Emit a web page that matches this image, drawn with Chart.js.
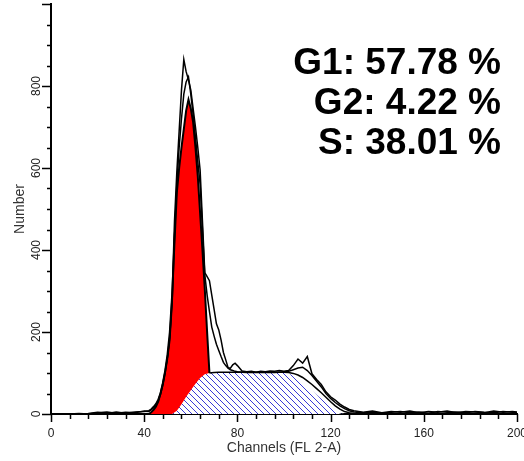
<!DOCTYPE html>
<html>
<head>
<meta charset="utf-8">
<script src="https://cdn.jsdelivr.net/npm/chart.js@4.4.0/dist/chart.umd.min.js"></script>
<style>
html, body { margin: 0; padding: 0; background: #fff; }
</style>
</head>
<body>
<canvas id="myChart" width="524" height="461"></canvas>
<script>
// channels sampled for the raw histograms
var rawChannels = [0, 4, 8, 12, 16, 20, 24, 28, 32, 36, 40,
    42, 43, 44, 45, 46, 47, 48, 49, 50, 51, 52, 53, 54, 55, 56, 57, 58, 59, 60, 61,
    62, 63, 64, 65, 66, 67, 68, 69, 70, 71, 72, 73, 74, 75, 76, 77, 78, 79, 80,
    82, 84, 86, 88, 90, 92, 94, 96, 98, 100, 102, 104, 106, 108, 110, 112, 114, 116, 118, 120,
    122, 124, 126, 128, 130,
    134, 138, 142, 146, 150, 154, 158, 162, 166, 170, 174, 178, 182, 186, 190, 194, 198, 200];

var rawA = [0, 0, 0, 0, 1, 4, 1, 5, 2, 5, 6,
    8, 12, 18, 25, 36, 52, 75, 105, 140, 190, 290, 470, 590, 690, 790, 865, 835, 815, 790, 745,
    700, 650, 595, 470, 345, 335, 325, 290, 255, 220, 205, 180, 150, 132, 113, 112, 120, 124, 118,
    105, 103, 104, 102, 104, 103, 105, 104, 106, 104, 106, 118, 134, 124, 140, 98, 84, 72, 54, 42,
    34, 24, 17, 11, 8,
    4, 7, 3, 6, 4, 7, 3, 6, 4, 7, 3, 6, 5, 3, 7, 4, 6, 5];

var rawB = [0, 0, 0, 1, 0, 3, 5, 2, 4, 3, 7,
    6, 10, 15, 22, 32, 48, 70, 100, 135, 180, 270, 430, 560, 650, 720, 780, 810, 822, 780, 730,
    675, 615, 560, 450, 340, 290, 250, 212, 190, 170, 155, 140, 126, 118, 112, 108, 106, 104, 103,
    102, 101, 102, 101, 102, 101, 102, 101, 102, 103, 104, 108, 112, 114, 106, 94, 80, 66, 50, 38,
    28, 20, 13, 8, 5,
    3, 5, 2, 4, 6, 3, 5, 2, 6, 4, 5, 3, 6, 4, 3, 6, 4, 3];

// G1 fit (on top of S)
var g1Channels = [42, 43, 44, 45, 46, 47, 48, 49, 50, 51, 52, 53, 54, 55, 56, 57, 58, 59, 60, 61,
    62, 63, 64, 65, 66, 67, 68];
var g1Total = [0, 4, 10, 18, 30, 50, 75, 105, 145, 200, 290, 420, 540, 600, 650, 695, 740, 767, 745, 712,
    650, 580, 490, 400, 305, 200, 100];

// S phase fit
var sChannels = [50, 52, 54, 56, 58, 60, 62, 64, 66, 68, 70, 74, 78, 82, 86, 90, 94, 98, 100, 102,
    104, 106, 108, 110, 112, 114, 116, 118, 120, 122, 124, 126];
var sValues = [0, 0, 8, 24, 42, 58, 74, 88, 97, 100, 101, 101, 101, 101, 101, 101, 101, 101, 101, 99,
    93, 85, 76, 67, 57, 47, 37, 27, 17, 8, 1, 0];

// S + G2 fit
var fitChannels = [68, 70, 72, 76, 80, 84, 88, 92, 96, 100, 102, 104, 106, 108, 110, 112, 114, 116, 118, 120,
    122, 124, 126, 128, 130];
var fitValues = [100, 101, 102, 102, 102, 102, 102, 102, 102, 102, 101, 99, 95, 89, 81, 72, 62, 52, 41, 30,
    20, 12, 6, 3, 1];

var statNames = ["G1", "G2", "S"];
var statValues = [57.78, 4.22, 38.01];

var xTicks = [0, 40, 80, 120, 160, 200];

function pts(xs, ys) {
    return xs.map(function (x, i) { return { x: x, y: ys[i] }; });
}

function makeHatch() {
    var c = document.createElement("canvas");
    c.width = 6; c.height = 6;
    var g = c.getContext("2d");
    g.fillStyle = "#fff";
    g.fillRect(0, 0, 6, 6);
    g.strokeStyle = "#3a3ad6";
    g.lineWidth = 1;
    for (var k = -1; k <= 1; k++) {
        g.beginPath();
        g.moveTo(-1, -1 + k * 6);
        g.lineTo(7, 7 + k * 6);
        g.stroke();
    }
    return g.createPattern(c, "repeat");
}

var FONT = "'Liberation Sans', Arial, sans-serif";

// tick marks: long ones at labels, short ones between
var tickMarks = {
    id: "tickMarks",
    afterDraw: function (chart) {
        var ctx = chart.ctx;
        var xs = chart.scales.x, ys = chart.scales.y;
        ctx.save();
        ctx.strokeStyle = "#000";
        ctx.lineWidth = 1.5;
        ctx.beginPath();
        for (var v = 0; v <= 200; v += 8) {
            var px = Math.round(xs.getPixelForValue(v)) + 0.5;
            var len = (v % 40 === 0) ? 8 : 5;
            ctx.moveTo(px, ys.bottom);
            ctx.lineTo(px, ys.bottom + len);
        }
        for (var w = 0; w <= 1000; w += 50) {
            var py = Math.round(ys.getPixelForValue(w)) + 0.5;
            var l2 = (w % 200 === 0) ? 9 : 4;
            ctx.moveTo(xs.left - l2, py);
            ctx.lineTo(xs.left, py);
        }
        ctx.stroke();
        ctx.restore();
    }
};

var stats = {
    id: "stats",
    afterDraw: function (chart) {
        var ctx = chart.ctx;
        ctx.save();
        ctx.font = "bold 37px " + FONT;
        ctx.fillStyle = "#000";
        ctx.textAlign = "right";
        ctx.textBaseline = "alphabetic";
        statNames.forEach(function (n, i) {
            ctx.fillText(n + ": " + statValues[i].toFixed(2) + " %", 501, 74 + i * 40);
        });
        ctx.restore();
    }
};

var ctx = document.getElementById("myChart").getContext("2d");
var chart = new Chart(ctx, {
    type: "line",
    data: {
        datasets: [
            {
                label: "raw A",
                data: pts(rawChannels, rawA),
                borderColor: "#000",
                borderWidth: 1.5,
                pointRadius: 0,
                fill: false,
                order: 0
            },
            {
                label: "raw B",
                data: pts(rawChannels, rawB),
                borderColor: "#000",
                borderWidth: 1.5,
                pointRadius: 0,
                fill: false,
                order: 1
            },
            {
                label: "S+G2",
                data: pts(fitChannels, fitValues),
                borderColor: "#000",
                borderWidth: 1.5,
                pointRadius: 0,
                fill: false,
                order: 2
            },
            {
                label: "S",
                data: pts(sChannels, sValues),
                borderColor: "rgba(0,0,0,0)",
                borderWidth: 0,
                backgroundColor: makeHatch(),
                pointRadius: 0,
                fill: "origin",
                order: 3
            },
            {
                label: "G1",
                data: pts(g1Channels, g1Total),
                borderColor: "#000",
                borderWidth: 2,
                backgroundColor: "#ff0000",
                pointRadius: 0,
                fill: "origin",
                order: 4
            }
        ]
    },
    options: {
        responsive: false,
        animation: false,
        layout: { padding: { top: 4, right: 7, left: 0, bottom: 0 } },
        plugins: {
            legend: { display: false },
            tooltip: { enabled: false }
        },
        scales: {
            x: {
                type: "linear",
                min: 0,
                max: 200,
                afterBuildTicks: function (s) {
                    s.ticks = xTicks.map(function (v) { return { value: v }; });
                },
                ticks: {
                    autoSkip: false,
                    maxRotation: 0,
                    padding: 12,
                    color: "#222",
                    font: { family: FONT, size: 12 }
                },
                grid: { display: true, drawOnChartArea: false, drawTicks: false },
                border: { display: true, color: "#000", width: 2 },
                title: {
                    display: true,
                    text: "Channels (FL 2-A)",
                    color: "#333",
                    font: { family: FONT, size: 14 },
                    padding: { top: 0, bottom: 4 }
                },
                afterFit: function (s) {
                    s.height = 47;
                    s.paddingLeft = 0;
                    s.paddingRight = 0;
                }
            },
            y: {
                min: 0,
                max: 1000,
                ticks: {
                    stepSize: 50,
                    autoSkip: false,
                    minRotation: 90,
                    maxRotation: 90,
                    crossAlign: "center",
                    padding: 4,
                    color: "#222",
                    font: { family: FONT, size: 12 },
                    callback: function (v) {
                        return (v % 200 === 0 && v < 1000) ? v : "";
                    }
                },
                grid: { display: true, drawOnChartArea: false, drawTicks: false },
                border: { display: true, color: "#000", width: 2 },
                title: {
                    display: true,
                    text: "Number",
                    color: "#333",
                    font: { family: FONT, size: 14 },
                    padding: { top: 12, bottom: 0 }
                },
                afterFit: function (s) {
                    s.width = 51;
                    s.paddingTop = 0;
                    s.paddingBottom = 0;
                }
            }
        }
    },
    plugins: [tickMarks, stats]
});
</script>
</body>
</html>
